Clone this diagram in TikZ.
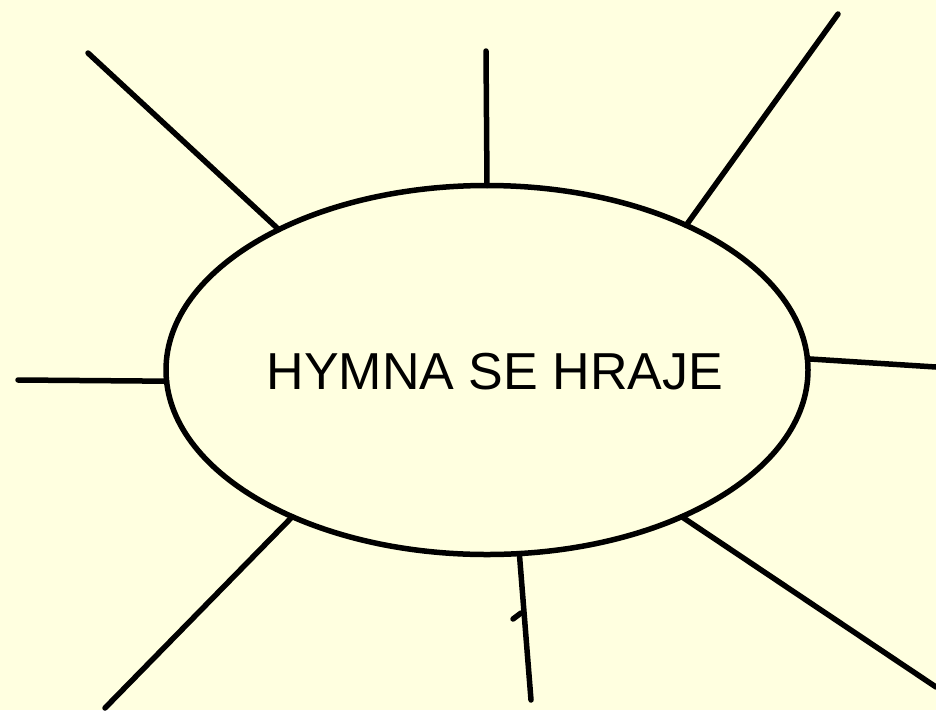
\documentclass[tikz,border=0pt]{standalone}
\usepackage{fontspec}
\setmainfont{Liberation Sans}
\usetikzlibrary{shapes.geometric}
\definecolor{bgyellow}{HTML}{FFFFE0}
\tikzset{
  spoke/.style={line width=5.5pt, line cap=round},
  hub/.style={ellipse, draw, line width=5.5pt, minimum width=642pt, minimum height=369pt, inner sep=0pt, outer sep=0pt},
  hubtext/.style={font=\fontsize{52}{60}\selectfont, inner sep=0pt}
}
\begin{document}
\begin{tikzpicture}[x=1pt,y=-1pt]
\fill[bgyellow] (0,0) rectangle (936,710);
\useasboundingbox (0,0) rectangle (936,710);
\node[hub] (ell) at (487,370) {};
\node[hubtext] (lbl) at (495,372) {HYMNA SE HRAJE};
\coordinate (e1) at (88,53);
\coordinate (e2) at (486,51);
\coordinate (e3) at (838,14);
\coordinate (e4) at (18,380);
\coordinate (e5) at (936,367);
\coordinate (e6) at (105,708);
\coordinate (e7) at (531,700);
\coordinate (e8) at (936,687);
\coordinate (t1) at (513,619);
\coordinate (t2) at (521,613);
\draw[spoke] (ell.146.2) -- (e1);
\draw[spoke] (ell.90.3) -- (e2);
\draw[spoke] (ell.36.7) -- (e3);
\draw[spoke] (ell.182.3) -- (e4);
\draw[spoke] (ell.2.3) -- (e5);
\draw[spoke] (ell.217.6) -- (e6);
\draw[spoke] (ell.280.8) -- (e7);
\draw[spoke] (ell.323.7) -- (e8);
\draw[spoke] (t1) -- (t2);
\end{tikzpicture}
\end{document}
